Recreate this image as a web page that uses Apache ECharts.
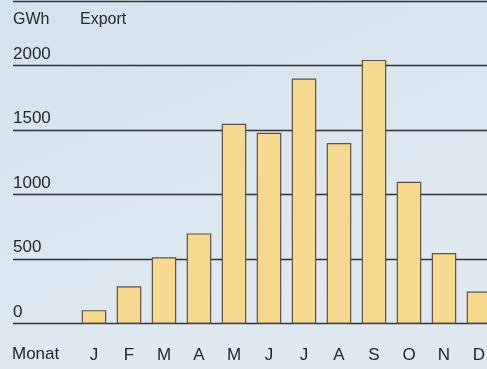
<!DOCTYPE html>
<html>
<head>
<meta charset="utf-8">
<script src="https://cdn.jsdelivr.net/npm/echarts@6/dist/echarts.min.js"></script>
<style>
  html, body { margin: 0; padding: 0; }
  #chart { width: 487px; height: 369px; }
</style>
</head>
<body>
<div id="chart"></div>
<script>
// Monthly electricity export in GWh
const months = ['J', 'F', 'M', 'A', 'M', 'J', 'J', 'A', 'S', 'O', 'N', 'D'];
const exportGWh = [105, 290, 515, 700, 1550, 1480, 1900, 1400, 2045, 1100, 548, 250];
const yTicks = [0, 500, 1000, 1500, 2000, 2500];

const FONT = 'Liberation Sans';
const TEXT = '#262626';

const chart = echarts.init(document.getElementById('chart'));

const plotTop = 1.2;
const plotHeight = 322.5;

chart.setOption({
  animation: false,
  backgroundColor: {
    type: 'linear', x: 0, y: 0, x2: 0.3, y2: 1,
    colorStops: [
      { offset: 0, color: '#d3e3ef' },
      { offset: 1, color: '#dfe9f1' }
    ]
  },
  grid: [
    // full-width grid carrying the horizontal rules and value labels
    { left: 13, right: 0, top: plotTop, height: plotHeight, outerBoundsMode: 'none' },
    // bar grid, one 35px band per month; the last band runs past the right edge
    { left: 76.5, width: 420, top: plotTop, height: plotHeight, outerBoundsMode: 'none' }
  ],
  xAxis: [
    { gridIndex: 0, type: 'value', show: false },
    {
      gridIndex: 1, type: 'category', data: months,
      axisLine: { show: false }, axisTick: { show: false },
      axisLabel: { color: TEXT, fontFamily: FONT, fontSize: 17, margin: 23, hideOverlap: false }
    }
  ],
  yAxis: [
    {
      gridIndex: 0, type: 'value',
      min: yTicks[0], max: yTicks[yTicks.length - 1], interval: 500,
      axisLine: { show: false }, axisTick: { show: false },
      splitLine: { lineStyle: { color: '#333', width: 1.3 } },
      axisLabel: {
        inside: true, margin: 0, showMaxLabel: false,
        align: 'left', verticalAlign: 'bottom', padding: [0, 0, 3, 0],
        formatter: (v) => String(v),
        color: TEXT, fontFamily: FONT, fontSize: 17
      }
    },
    {
      gridIndex: 1, type: 'value',
      min: yTicks[0], max: yTicks[yTicks.length - 1], interval: 500,
      show: false, splitLine: { show: false }
    }
  ],
  series: [{
    type: 'bar',
    xAxisIndex: 1, yAxisIndex: 1,
    data: exportGWh,
    barWidth: 24.5,
    itemStyle: { color: '#f6d98e', borderColor: '#5e5040', borderWidth: 1.2 }
  }],
  graphic: [
    { type: 'text', left: 13, top: 12, style: { text: 'GWh', fill: TEXT, font: '16px "' + FONT + '"' } },
    { type: 'text', left: 80, top: 12, style: { text: 'Export', fill: TEXT, font: '16px "' + FONT + '"' } },
    { type: 'text', left: 12, top: 346, style: { text: 'Monat', fill: TEXT, font: '17px "' + FONT + '"' } }
  ]
});
</script>
</body>
</html>
